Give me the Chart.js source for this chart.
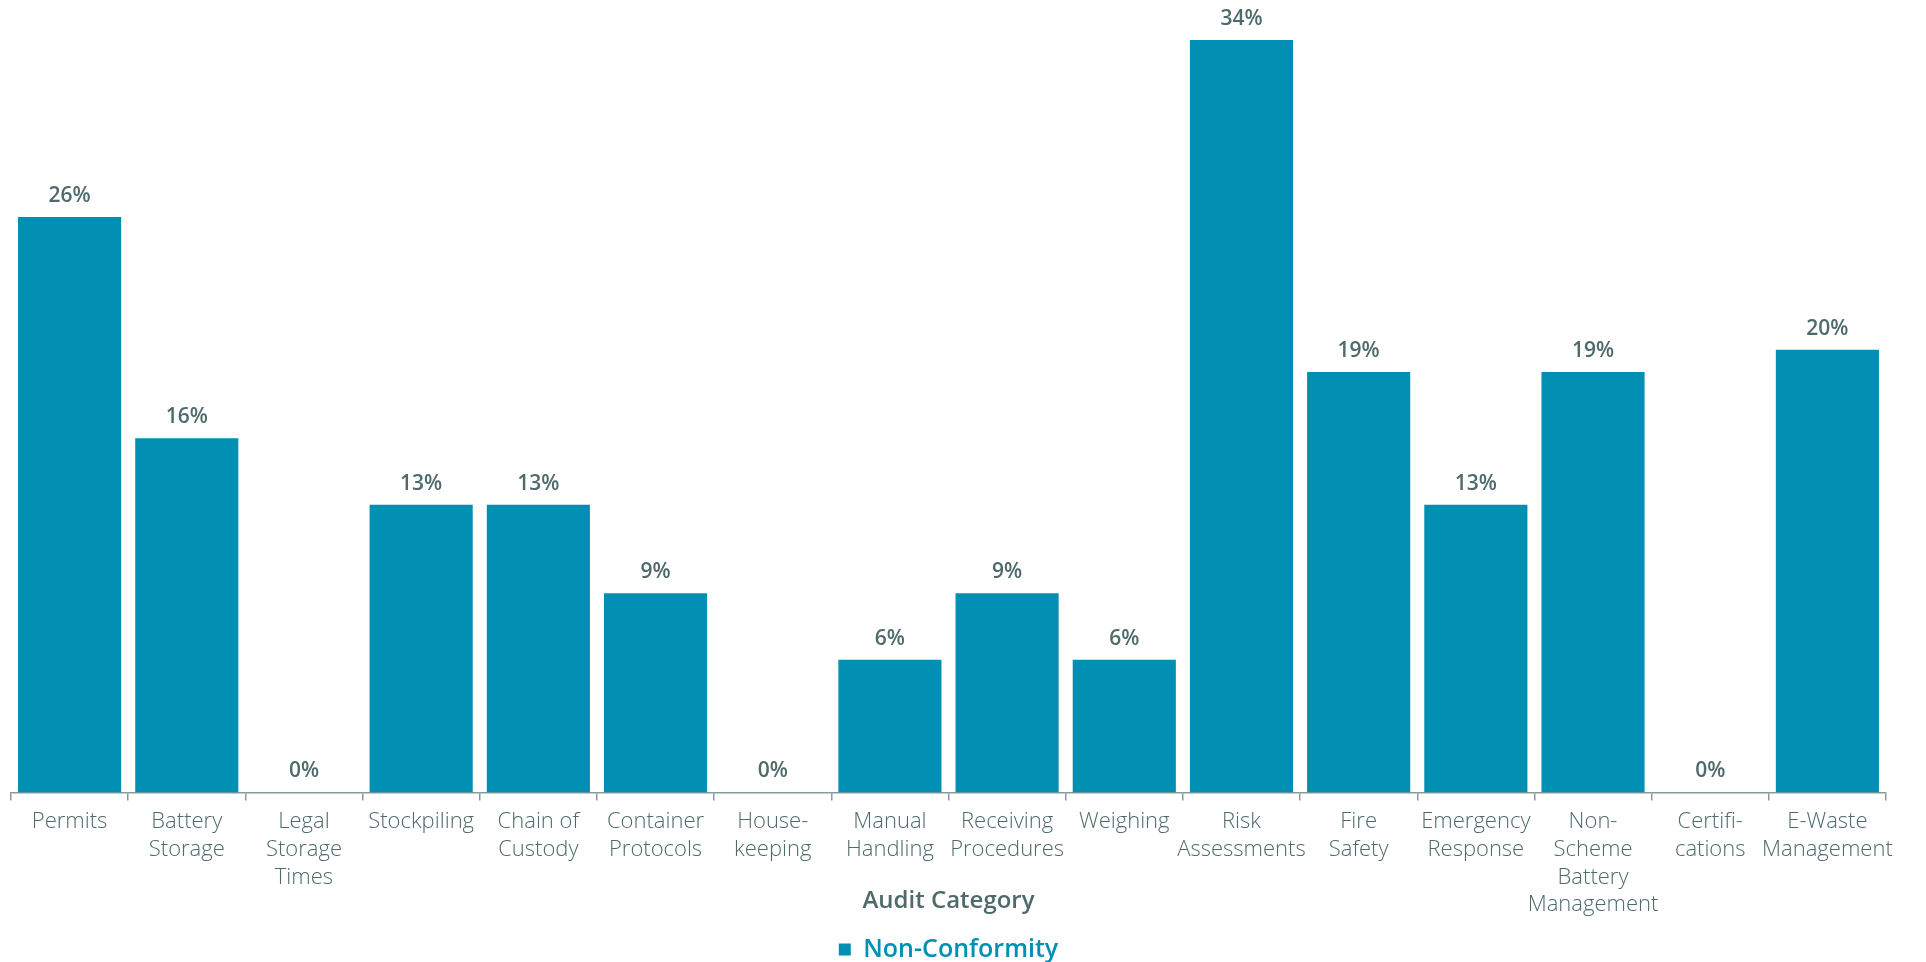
<!DOCTYPE html>
<html>
<head>
<meta charset="utf-8">
<script src="https://cdn.jsdelivr.net/npm/chart.js@4/dist/chart.umd.min.js"></script>
<style>
  html, body { margin: 0; padding: 0; background: #fff; }
  #wrap { width: 1926px; height: 962px; }
</style>
</head>
<body>
<div id="wrap"><canvas id="barChart" width="1926" height="962"></canvas></div>
<script>
// audit categories (multi-line labels as shown under the axis)
const categories = [
  ['Permits'],
  ['Battery', 'Storage'],
  ['Legal', 'Storage', 'Times'],
  ['Stockpiling'],
  ['Chain of', 'Custody'],
  ['Container', 'Protocols'],
  ['House-', 'keeping'],
  ['Manual', 'Handling'],
  ['Receiving', 'Procedures'],
  ['Weighing'],
  ['Risk', 'Assessments'],
  ['Fire', 'Safety'],
  ['Emergency', 'Response'],
  ['Non-', 'Scheme', 'Battery', 'Management'],
  ['Certifi-', 'cations'],
  ['E-Waste', 'Management']
];

// non-conformity rate per category, percent
const nonConformity = [26, 16, 0, 13, 13, 9, 0, 6, 9, 6, 34, 19, 13, 19, 0, 20];

const seriesName = 'Non-Conformity';
const barColor = '#018fb3';
const textColor = '#4f6a6a';
const fontFamily = "'Open Sans', 'Lato', sans-serif";

// draws the % value above each bar
const valueLabels = {
  id: 'valueLabels',
  afterDatasetsDraw(chart) {
    const ctx = chart.ctx;
    const meta = chart.getDatasetMeta(0);
    ctx.save();
    ctx.font = '600 21px ' + fontFamily;
    ctx.fillStyle = textColor;
    ctx.textAlign = 'center';
    ctx.textBaseline = 'alphabetic';
    meta.data.forEach(function (bar, i) {
      ctx.fillText(nonConformity[i] + '%', bar.x, bar.y - 15);
    });
    ctx.restore();
  }
};

const data = {
  labels: categories,
  datasets: [{
    label: seriesName,
    data: nonConformity,
    backgroundColor: barColor,
    borderWidth: 0,
    barPercentage: 0.88,
    categoryPercentage: 1.0
  }]
};

const config = {
  type: 'bar',
  data: data,
  plugins: [valueLabels],
  options: {
    responsive: false,
    animation: false,
    layout: {
      padding: { top: 40, left: 11, right: 40, bottom: -10 }
    },
    plugins: {
      legend: {
        position: 'bottom',
        labels: {
          color: barColor,
          boxWidth: 12,
          boxHeight: 12,
          padding: 2,
          font: { family: fontFamily, size: 25, weight: '600' }
        }
      },
      tooltip: { enabled: false }
    },
    scales: {
      y: {
        display: false,
        min: 0,
        max: 34
      },
      x: {
        offset: true,
        border: { display: true, color: '#8a9999', width: 1.5 },
        grid: {
          display: true,
          offset: true,
          drawOnChartArea: false,
          drawTicks: true,
          tickLength: 8,
          color: '#8a9999',
          lineWidth: 1.5
        },
        ticks: {
          color: textColor,
          padding: 7,
          maxRotation: 0,
          autoSkip: false,
          font: { family: fontFamily, size: 22, weight: '300', lineHeight: 1.27 }
        },
        // title sits level with the last label line, so it takes no extra height
        title: {
          display: true,
          text: 'Audit Category',
          color: textColor,
          padding: { top: -39, bottom: 19 },
          font: { family: fontFamily, size: 24, weight: '600' }
        }
      }
    }
  }
};

const myChart = new Chart(document.getElementById('barChart'), config);
</script>
</body>
</html>
